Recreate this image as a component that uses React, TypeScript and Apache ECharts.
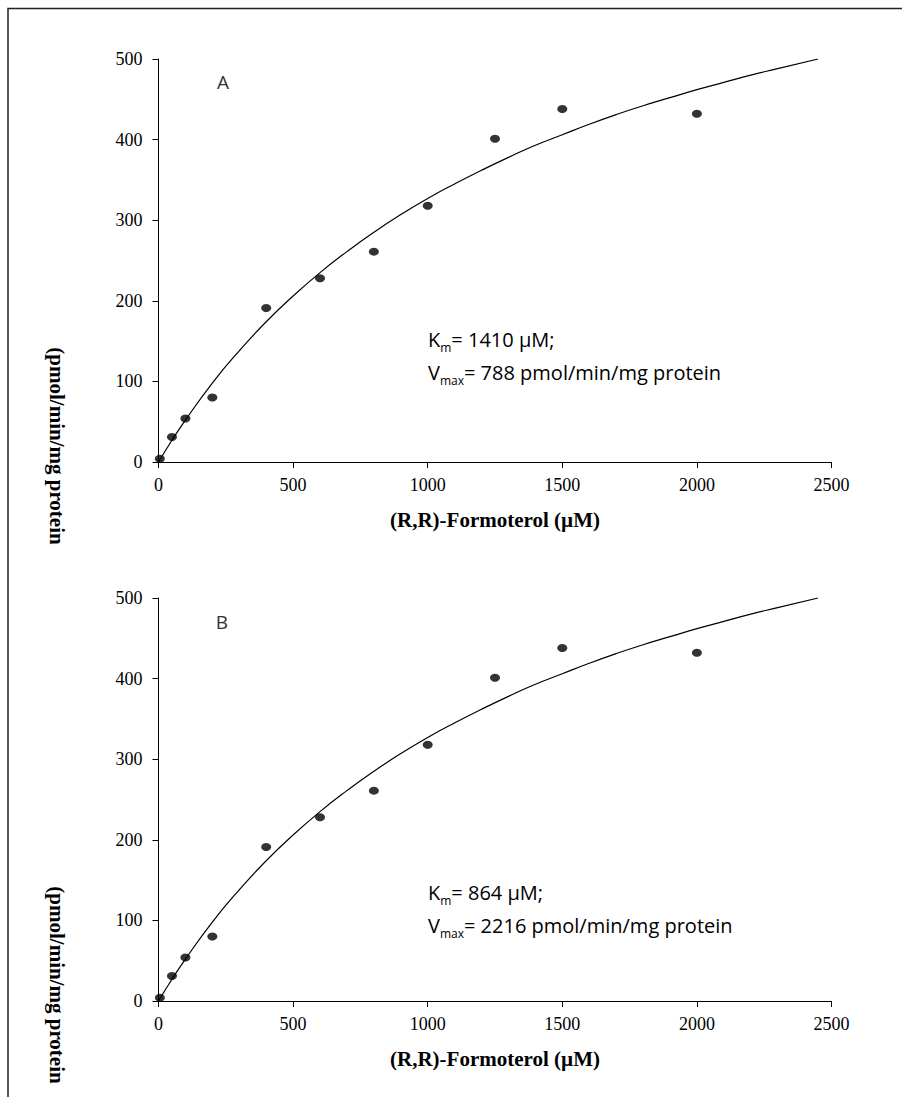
import React, { useEffect, useRef } from "react";
import * as echarts from "echarts";

// Measured substrate concentrations (µM) and rates (pmol/min/mg protein)
const concentrations = [5, 50, 100, 200, 400, 600, 800, 1000, 1250, 1500, 2000];
const rates = [4, 31, 54, 80, 191, 228, 261, 318, 401, 438, 432];

// Fitted curve
const fitX = [0, 50, 100, 200, 300, 400, 500, 600, 700, 800, 900, 1000, 1100, 1200, 1300, 1400, 1500, 1600, 1700, 1800, 1900, 2000, 2100, 2200, 2300, 2450];
const fitY = [0, 27, 52, 98, 138, 174, 206, 235, 261, 285, 307, 327, 345, 362, 378, 393, 406, 419, 431, 442, 452, 462, 471, 480, 488, 500];

const xTicks = [0, 500, 1000, 1500, 2000, 2500];
const yTicks = [0, 100, 200, 300, 400, 500];

const panelLabels = ["A", "B"];
const kmTexts = ["= 1410 µM;", "= 864 µM;"];
const vmaxTexts = ["= 788 pmol/min/mg protein", "= 2216 pmol/min/mg protein"];

const xTitle = "(R,R)-Formoterol (µM)";
const yTitle = "(pmol/min/mg protein";

const SERIF = "Liberation Serif";
const SANS = "Open Sans";

export default function App() {
  const ref = useRef<HTMLDivElement>(null);

  useEffect(() => {
    if (!ref.current) return;
    const chart = echarts.init(ref.current, undefined, { renderer: "svg" });

    const gridLeft = 158.5;
    const gridW = 673;
    const gridH = 403;
    const tops = [59, 598];

    const grids = tops.map((t) => ({ left: gridLeft, top: t, width: gridW, height: gridH }));

    const axisLine = { show: true, lineStyle: { color: "#000", width: 1 } };
    const axisTick = { show: true, inside: false, length: 6, lineStyle: { color: "#000", width: 1 } };
    const fmt = (v: number) => String(v);

    const xAxes = tops.map((_, i) => ({
      type: "value",
      gridIndex: i,
      min: xTicks[0],
      max: xTicks[xTicks.length - 1],
      interval: xTicks[1] - xTicks[0],
      axisLine,
      axisTick,
      splitLine: { show: false },
      axisLabel: { color: "#000", fontFamily: SERIF, fontSize: 18, margin: 14, formatter: fmt },
      name: xTitle,
      nameLocation: "middle",
      nameGap: 47,
      nameTextStyle: { color: "#000", fontFamily: SERIF, fontSize: 21, fontWeight: "bold" },
    }));

    const yAxes = tops.map((_, i) => ({
      type: "value",
      gridIndex: i,
      min: yTicks[0],
      max: yTicks[yTicks.length - 1],
      interval: yTicks[1] - yTicks[0],
      axisLine,
      axisTick,
      splitLine: { show: false },
      axisLabel: { color: "#000", fontFamily: SERIF, fontSize: 18, margin: 16, formatter: fmt },
    }));

    const series: any[] = [];
    tops.forEach((_, i) => {
      series.push({
        type: "line",
        xAxisIndex: i,
        yAxisIndex: i,
        data: fitX.map((x, k) => [x, fitY[k]]),
        smooth: true,
        showSymbol: false,
        symbol: "none",
        lineStyle: { color: "#000", width: 1.2 },
        silent: true,
        z: 2,
      });
      series.push({
        type: "scatter",
        xAxisIndex: i,
        yAxisIndex: i,
        data: concentrations.map((x, k) => [x, rates[k]]),
        symbol: "circle",
        symbolSize: [10, 8],
        itemStyle: { color: "#000" },
        z: 3,
      });
    });

    const richStyles = {
      n: { fontFamily: SANS, fontSize: 20, color: "#444", lineHeight: 26, verticalAlign: "bottom" },
      s: { fontFamily: SANS, fontSize: 12, color: "#444", lineHeight: 17, verticalAlign: "bottom", padding: [0, 0, -4, 0] },
    };

    const graphics: any[] = [
      {
        type: "polyline",
        shape: { points: [[8, 1200], [8, 8.5], [1000, 8.5]] },
        style: { stroke: "#222", lineWidth: 1.5, fill: "none" },
        silent: true,
      },
    ];

    const labelYs = [82, 622];
    const labelXs = [223, 222];
    const kmYs = [336, 889];
    const vmYs = [369, 922];
    const titleYs = [446, 985];

    tops.forEach((_, i) => {
      graphics.push({
        type: "text",
        x: labelXs[i],
        y: labelYs[i],
        style: { text: panelLabels[i], font: `19px ${SANS}`, fill: "#333", align: "center", verticalAlign: "middle" },
      });
      graphics.push({
        type: "text",
        x: 428,
        y: kmYs[i],
        style: {
          text: `{n|K}{s|m}{n|${kmTexts[i]}}`,
          rich: richStyles,
          align: "left",
          verticalAlign: "middle",
        },
      });
      graphics.push({
        type: "text",
        x: 428,
        y: vmYs[i],
        style: {
          text: `{n|V}{s|max}{n|${vmaxTexts[i]}}`,
          rich: richStyles,
          align: "left",
          verticalAlign: "middle",
        },
      });
      graphics.push({
        type: "text",
        x: 57,
        y: titleYs[i],
        rotation: -Math.PI / 2,
        style: {
          text: yTitle,
          font: `bold 21px ${SERIF}`,
          fill: "#000",
          align: "center",
          verticalAlign: "middle",
        },
      });
    });

    chart.setOption({
      animation: false,
      backgroundColor: "#fff",
      grid: grids,
      xAxis: xAxes,
      yAxis: yAxes,
      series,
      graphic: graphics,
    });

    return () => chart.dispose();
  }, []);

  return (
    <div
      ref={ref}
      style={{ position: "fixed", left: 0, top: 0, width: 902, height: 1097 }}
    />
  );
}
